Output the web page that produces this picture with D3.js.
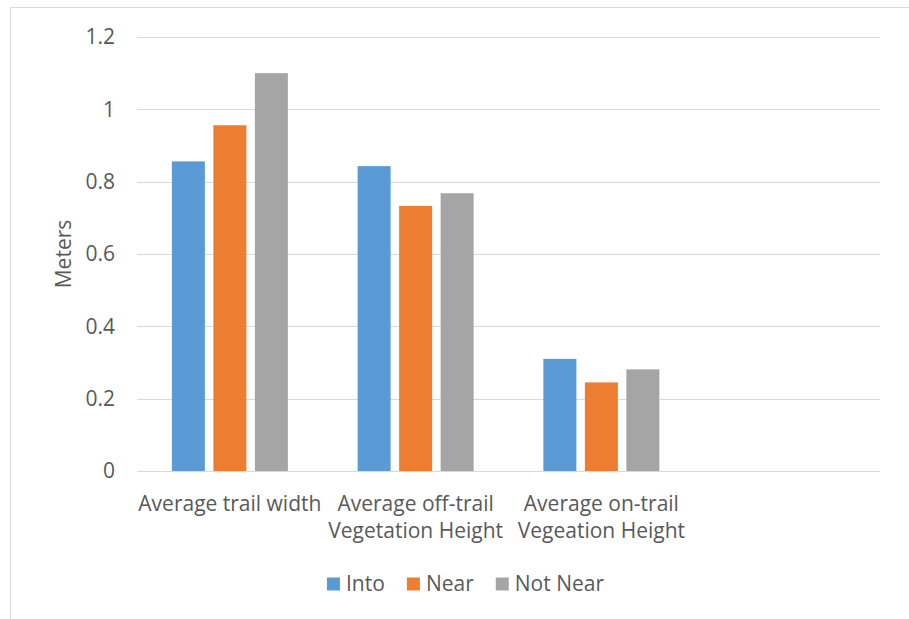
<!DOCTYPE html>
<html>
<head>
<meta charset="utf-8">
<script src="https://cdn.jsdelivr.net/npm/d3@7"></script>
<style>
  html, body { margin: 0; padding: 0; background: #fff; }
  svg { display: block; }
  text { font-family: "Open Sans", "Noto Sans", sans-serif; fill: #595959; }
</style>
</head>
<body>
<svg id="chart" width="909" height="619"></svg>
<script>
// Category slots along the x axis (the fourth slot is left empty)
const categories = [
  ["Average trail width"],
  ["Average off-trail", "Vegetation Height"],
  ["Average on-trail", "Vegeation Height"],
  [""]
];
const seriesNames = ["Into", "Near", "Not Near"];
const seriesColors = ["#5b9bd5", "#ed7d31", "#a5a5a5"];
const intoValues = [0.856, 0.843, 0.310];
const nearValues = [0.956, 0.733, 0.245];
const notNearValues = [1.100, 0.768, 0.281];
const yTicks = [0, 0.2, 0.4, 0.6, 0.8, 1.0, 1.2];
const yTitle = "Meters";

const series = [intoValues, nearValues, notNearValues];
const fontSize = "21px";

const svg = d3.select("#chart");

// outer chart frame
svg.append("rect")
  .attr("x", 10.5).attr("y", 7.5)
  .attr("width", 940).attr("height", 640)
  .attr("fill", "none").attr("stroke", "#d9d9d9").attr("stroke-width", 1);

const plot = { left: 137, right: 880, top: 37, bottom: 471 };

const x = d3.scaleBand()
  .domain(d3.range(categories.length))
  .range([plot.left, plot.right]);

const y = d3.scaleLinear()
  .domain([0, 1.2])
  .range([plot.bottom, plot.top]);

// horizontal gridlines
svg.append("g")
  .selectAll("line")
  .data(yTicks)
  .join("line")
  .attr("x1", plot.left).attr("x2", plot.right)
  .attr("y1", d => Math.round(y(d)) + 0.5)
  .attr("y2", d => Math.round(y(d)) + 0.5)
  .attr("stroke", "#d9d9d9").attr("stroke-width", 1);

// y tick labels
svg.append("g")
  .selectAll("text")
  .data(yTicks)
  .join("text")
  .attr("x", 115)
  .attr("y", d => y(d))
  .attr("dy", "0.35em")
  .attr("text-anchor", "end")
  .style("font-size", fontSize)
  .text(d => d3.format("~g")(d));

// y axis title
svg.append("text")
  .attr("transform", `translate(71,${(plot.top + plot.bottom) / 2}) rotate(-90)`)
  .attr("text-anchor", "middle")
  .style("font-size", fontSize)
  .text(yTitle);

// bars within each category: three bars side by side around the band centre
const barWidth = 33, barStep = 41.5;
const xSeries = d3.scalePoint()
  .domain(d3.range(series.length))
  .range([-barStep, barStep]);

series.forEach((vals, si) => {
  svg.append("g")
    .selectAll("rect")
    .data(vals)
    .join("rect")
    .attr("x", (d, i) => x(i) + x.bandwidth() / 2 + xSeries(si) - barWidth / 2)
    .attr("y", d => y(d))
    .attr("width", barWidth)
    .attr("height", d => y(0) - y(d))
    .attr("fill", seriesColors[si]);
});

// category labels
const catG = svg.append("g");
categories.forEach((lines, i) => {
  const cx = x(i) + x.bandwidth() / 2;
  const t = catG.append("text")
    .attr("x", cx)
    .attr("y", 511)
    .attr("text-anchor", "middle")
    .style("font-size", fontSize);
  lines.forEach((ln, k) => {
    t.append("tspan")
      .attr("x", cx)
      .attr("dy", k === 0 ? 0 : 26.5)
      .text(ln);
  });
});

// legend
const legend = svg.append("g");
let lx = 0;
seriesNames.forEach((name, i) => {
  const g = legend.append("g").attr("transform", `translate(${lx},0)`);
  g.append("rect")
    .attr("x", 0).attr("y", -13.5)
    .attr("width", 13).attr("height", 13)
    .attr("fill", seriesColors[i]);
  const t = g.append("text")
    .attr("x", 19).attr("y", 0)
    .style("font-size", fontSize)
    .text(name);
  const w = t.node().getComputedTextLength();
  lx += 19 + w + 22;
});
const legendWidth = lx - 22;
legend.attr("transform", `translate(${465.5 - legendWidth / 2},591)`);
</script>
</body>
</html>
